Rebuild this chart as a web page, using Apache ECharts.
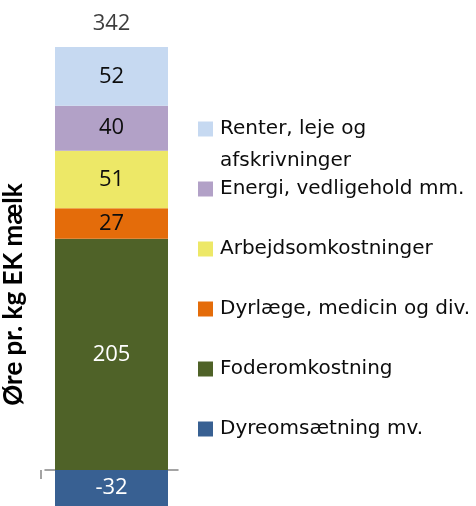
<!DOCTYPE html>
<html>
<head>
<meta charset="utf-8">
<script src="https://cdn.jsdelivr.net/npm/echarts@6/dist/echarts.min.js"></script>
<style>
html, body { margin: 0; padding: 0; background: #fff; }
#chart-container { width: 476px; height: 506px; }
</style>
</head>
<body>
<div id="chart-container"></div>
<script>
let dom = document.getElementById('chart-container');
let myChart = echarts.init(dom, null, { renderer: 'canvas' });

// data, bottom of the stack first
const categories = [''];
const seriesNames = [
    'Dyreomsætning mv.',
    'Foderomkostning',
    'Dyrlæge, medicin og div.',
    'Arbejdsomkostninger',
    'Energi, vedligehold mm.',
    'Renter, leje og\nafskrivninger'
];
const seriesValues = [-32, 205, 27, 51, 40, 52];
const totals = [342];

const seriesColors = ['#386092', '#4f6228', '#e46c0a', '#ede867', '#b2a1c7', '#c6d9f1'];
const labelColors = ['#ffffff', '#ffffff', '#0d0d0d', '#0d0d0d', '#0d0d0d', '#0d0d0d'];
// legend placement (top of each legend box)
const legendTops = [419, 359, 299, 239, 179, 81];

const FONT = 'Open Sans';
const stackTop = seriesValues.filter(function (v) { return v > 0; })
    .reduce(function (a, b) { return a + b; }, 0);

let series = seriesNames.map(function (name, i) {
    return {
        name: name,
        type: 'bar',
        stack: 'total',
        barWidth: 113,
        data: [seriesValues[i]],
        itemStyle: { color: seriesColors[i] },
        label: {
            show: true,
            position: 'inside',
            color: labelColors[i],
            fontFamily: FONT,
            fontSize: 22
        },
        emphasis: { disabled: true }
    };
});

series.push({
    name: 'total',
    type: 'scatter',
    symbolSize: 0,
    data: [stackTop],
    label: {
        show: true,
        position: 'top',
        distance: 12,
        color: '#0d0d0d',
        fontFamily: FONT,
        fontSize: 22,
        formatter: function () { return String(totals[0]); }
    },
    emphasis: { disabled: true }
});

let legends = seriesNames.map(function (name, i) {
    let multi = name.indexOf('\n') >= 0;
    return {
        data: [name],
        left: 198,
        top: legendTops[i],
        padding: 0,
        itemWidth: 15,
        itemHeight: 15,
        icon: 'rect',
        selectedMode: false,
        // empty first line keeps the icon level with the first text line
        formatter: multi ? function (n) { return '\n' + n; } : '{name}',
        textStyle: {
            fontFamily: 'DejaVu Sans',
            fontSize: 20,
            color: '#0d0d0d',
            lineHeight: multi ? 32 : 20,
            padding: [0, 0, 0, 2]
        }
    };
});

let option = {
    animation: false,
    legend: legends,
    grid: { left: 40, width: 138, top: 47, height: 461 },
    xAxis: {
        type: 'category',
        data: categories,
        axisLine: {
            lineStyle: { color: '#868686', width: 1.5 },
            // small tick hanging below the left end of the axis
            symbol: ['path://M-9,0h9v1.5h-9zM9,0h0.01v0.01h-0.01z', 'none'],
            symbolSize: [18, 1.5],
            symbolOffset: [-4, 0]
        },
        axisTick: { show: false },
        axisLabel: { show: false }
    },
    yAxis: {
        type: 'value',
        min: -32,
        max: 375,
        axisLine: { show: false },
        axisTick: { show: false },
        axisLabel: { show: false },
        splitLine: { show: false },
        name: 'Øre pr. kg EK mælk',
        nameLocation: 'middle',
        nameRotate: 90,
        nameGap: 18,
        nameTextStyle: {
            fontFamily: 'Lato',
            fontWeight: 'bold',
            fontSize: 26,
            color: '#000',
            padding: [0, 36, 0, 0]
        }
    },
    series: series
};

myChart.setOption(option);
window.addEventListener('resize', myChart.resize);
</script>
</body>
</html>
